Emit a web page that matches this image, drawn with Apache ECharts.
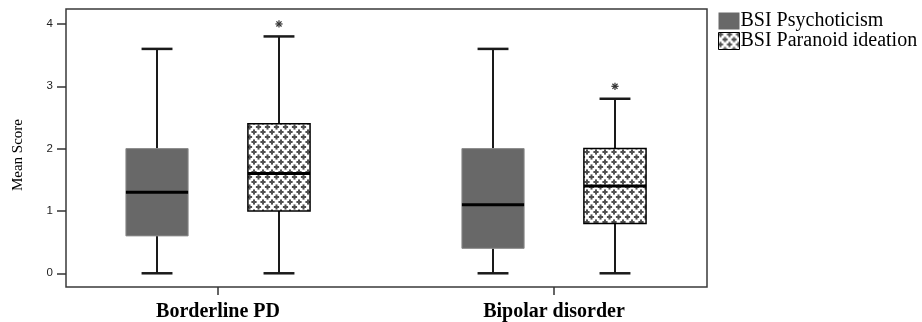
<!DOCTYPE html>
<html><head><meta charset="utf-8">
<script src="https://cdn.jsdelivr.net/npm/echarts@6/dist/echarts.min.js"></script>
<style>html,body{margin:0;padding:0;background:#fff}#c{width:922px;height:322px}</style>
</head><body><div id="c"></div>
<script>
// ---- data ----
const categories = ['Borderline PD', 'Bipolar disorder'];
const seriesNames = ['BSI Psychoticism', 'BSI Paranoid ideation'];
// [min, Q1, median, Q3, max] per category
const psychoticism = [[0, 0.6, 1.3, 2.0, 3.6], [0, 0.4, 1.1, 2.0, 3.6]];
const paranoid = [[0, 1.0, 1.6, 2.4, 3.8], [0, 0.8, 1.4, 2.0, 2.8]];
const paranoidOutliers = [4.0, 3.0];
const yTicks = [0, 1, 2, 3, 4];
const yRange = [-0.22, 4.24];

// ---- styles ----
const OFFSET = 0.1815, BOXW = 0.185, CAPW = 0.092;

function makePattern() {
  const c = document.createElement('canvas');
  c.width = 9; c.height = 10;
  const g = c.getContext('2d');
  g.fillStyle = '#ffffff'; g.fillRect(0, 0, 9, 10);
  g.fillStyle = '#505050';
  const pts = [[2, 2], [6.5, 7]];
  pts.forEach(([x, y]) => {
    for (let dx = -9; dx <= 9; dx += 9) for (let dy = -10; dy <= 10; dy += 10) {
      g.fillRect(x + dx - 2.6, y + dy - 1, 5.2, 2);
      g.fillRect(x + dx - 1, y + dy - 2.6, 2, 5.2);
    }
  });
  return c;
}
const pattern = { image: makePattern(), repeat: 'repeat' };
const psychFill = '#686868';

function makeRender(dir, boxStyle) {
  return function (params, api) {
    const cat = api.value(0);
    const base = api.coord([cat, 0]);
    const band = api.size([1, 0])[0];
    const cx = base[0] + dir * band * OFFSET;
    const w = band * BOXW, cw = band * CAPW;
    const y = [1, 2, 3, 4, 5].map(i => api.coord([cat, api.value(i)])[1]);
    const line = (x1, y1, x2, y2, lw, color) => ({ type: 'line', shape: { x1, y1, x2, y2 }, style: { stroke: color, lineWidth: lw } });
    return {
      type: 'group', children: [
        line(cx, y[4], cx, y[3], 2, '#1a1a1a'),
        line(cx, y[1], cx, y[0], 2, '#1a1a1a'),
        line(cx - cw / 2, y[4], cx + cw / 2, y[4], 2.5, '#1a1a1a'),
        line(cx - cw / 2, y[0], cx + cw / 2, y[0], 2.5, '#1a1a1a'),
        { type: 'rect', shape: { x: cx - w / 2, y: y[3], width: w, height: y[1] - y[3] }, style: boxStyle },
        line(cx - w / 2, y[2], cx + w / 2, y[2], 3, '#000')
      ]
    };
  };
}

function renderOutlier(params, api) {
  const cat = api.value(0);
  const p = api.coord([cat, api.value(1)]);
  const band = api.size([1, 0])[0];
  const cx = p[0] + band * OFFSET, cy = p[1];
  const r = 3.6, children = [];
  for (let k = 0; k < 4; k++) {
    const a = k * Math.PI / 4;
    children.push({ type: 'line', shape: { x1: cx - r * Math.cos(a), y1: cy - r * Math.sin(a), x2: cx + r * Math.cos(a), y2: cy + r * Math.sin(a) }, style: { stroke: '#333', lineWidth: 1.2 } });
  }
  return { type: 'group', children };
}

const toItems = arr => arr.map((v, i) => [i].concat(v));

const option = {
  animation: false,
  backgroundColor: '#fff',
  grid: [
    { left: 66, right: 215, top: 9, bottom: 35, show: true, borderColor: '#3a3a3a', borderWidth: 1.5, backgroundColor: '#fff' },
    { left: 50, right: 200, top: 9, bottom: 35 }
  ],
  xAxis: [
    { gridIndex: 0, type: 'value', show: false, min: 0, max: 1 },
    {
      gridIndex: 1, type: 'category', data: categories,
      axisLine: { show: false, onZero: false },
      axisTick: { show: true, alignWithLabel: true, length: 8, lineStyle: { color: '#333', width: 1.5 } },
      axisLabel: { fontFamily: 'Liberation Serif', fontWeight: 'bold', fontSize: 20, color: '#000', margin: 15 },
      splitLine: { show: false }
    }
  ],
  yAxis: [
    {
      gridIndex: 0, type: 'value', min: yRange[0], max: yRange[1],
      axisLine: { show: false },
      axisTick: { show: true, length: 9, customValues: yTicks, lineStyle: { color: '#333', width: 1.5 } },
      axisLabel: { customValues: yTicks, fontFamily: 'Liberation Sans', fontSize: 11.5, color: '#222', margin: 13 },
      splitLine: { show: false },
      name: 'Mean Score', nameLocation: 'middle', nameGap: 40, nameRotate: 90,
      nameTextStyle: { fontFamily: 'Liberation Serif', fontSize: 15, color: '#000', padding: [0, 14, 0, 0] }
    },
    { gridIndex: 1, type: 'value', min: yRange[0], max: yRange[1], show: false }
  ],
  legend: {
    orient: 'vertical', left: 718, top: 11, padding: 0, itemWidth: 21, itemHeight: 17, itemGap: 0, icon: 'rect',
    textStyle: { fontFamily: 'Liberation Serif', fontSize: 20, lineHeight: 19, color: '#000', padding: [0, 0, 0, -4] },
    data: [
      { name: seriesNames[0], itemStyle: { color: psychFill, borderWidth: 0 } },
      { name: seriesNames[1], itemStyle: { color: pattern, borderColor: '#000', borderWidth: 1 } }
    ]
  },
  series: [
    {
      name: seriesNames[0], type: 'custom', xAxisIndex: 1, yAxisIndex: 1, silent: true,
      itemStyle: { color: psychFill },
      encode: { x: 0, y: [1, 2, 3, 4, 5] },
      renderItem: makeRender(-1, { fill: psychFill, stroke: '#8a8a8a', lineWidth: 1 }),
      data: toItems(psychoticism)
    },
    {
      name: seriesNames[1], type: 'custom', xAxisIndex: 1, yAxisIndex: 1, silent: true,
      itemStyle: { color: '#fff' },
      encode: { x: 0, y: [1, 2, 3, 4, 5] },
      renderItem: makeRender(1, { fill: pattern, stroke: '#000', lineWidth: 1.5 }),
      data: toItems(paranoid)
    },
    {
      name: 'outliers', type: 'custom', xAxisIndex: 1, yAxisIndex: 1, silent: true,
      encode: { x: 0, y: 1 },
      renderItem: renderOutlier,
      data: paranoidOutliers.map((v, i) => [i, v])
    }
  ]
};
echarts.init(document.getElementById('c'), null, { renderer: 'canvas' }).setOption(option);
</script>
</body></html>
